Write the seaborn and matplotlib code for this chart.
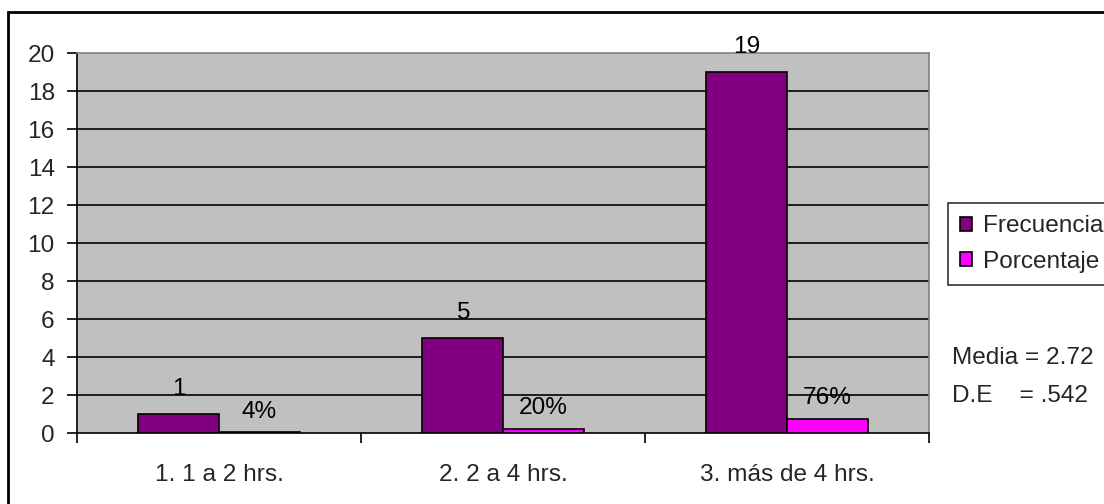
import numpy as np
import pandas as pd
import matplotlib
matplotlib.use("Agg")
import matplotlib.pyplot as plt
from matplotlib.patches import Rectangle
import seaborn as sns

# Data
categories = ['1. 1 a 2 hrs.', '2. 2 a 4 hrs.', '3. más de 4 hrs.']
frecuencia = [1, 5, 19]
porcentaje = [0.04, 0.20, 0.76]
frec_labels = ['1', '5', '19']
porc_labels = ['4%', '20%', '76%']
y_ticks = [0, 2, 4, 6, 8, 10, 12, 14, 16, 18, 20]
stats_lines = ['Media = 2.72', 'D.E    = .542']

sns.set_theme(style="white")
plt.rcParams['font.family'] = ['Liberation Sans', 'DejaVu Sans']

df = pd.DataFrame({
    'Categoria': categories * 2,
    'Valor': frecuencia + porcentaje,
    'Serie': ['Frecuencia'] * 3 + ['Porcentaje'] * 3,
})

FS = 17.6

fig = plt.figure(figsize=(11.04, 5.04), dpi=100)
ax = fig.add_axes([77 / 1104, 1 - 433 / 504, (929 - 77) / 1104, (433 - 53) / 504])

sns.barplot(data=df, x='Categoria', y='Valor', hue='Serie', order=categories,
            hue_order=['Frecuencia', 'Porcentaje'],
            palette={'Frecuencia': '#800080', 'Porcentaje': '#FF00FF'},
            width=0.57, edgecolor='black', linewidth=1.2, saturation=1,
            ax=ax, zorder=3)

ax.set_facecolor('#C0C0C0')
ax.set_xlim(-0.5, 2.5)
ax.set_ylim(0, 20)
ax.set_yticks(y_ticks)
ax.set_yticklabels([str(t) for t in y_ticks], fontsize=FS)
ax.tick_params(axis='y', direction='out', length=7, width=1.2, color='black', pad=9, left=True)
ax.set_xticks(range(len(categories)))
ax.set_xticklabels(categories, fontsize=FS)
ax.tick_params(axis='x', which='major', length=0, pad=22)
ax.set_xticks([-0.5, 0.5, 1.5, 2.5], minor=True)
ax.tick_params(axis='x', which='minor', direction='out', length=7, width=1.2, color='black', bottom=True)
ax.set_xlabel('')
ax.set_ylabel('')

for t in y_ticks[1:-1]:
    ax.axhline(t, color='black', lw=1.2, zorder=1)

for side in ['left', 'bottom']:
    ax.spines[side].set_color('black')
    ax.spines[side].set_linewidth(1.2)
for side in ['top', 'right']:
    ax.spines[side].set_color('#808080')
    ax.spines[side].set_linewidth(1.2)

# value labels
ax.bar_label(ax.containers[0], labels=frec_labels, padding=10, fontsize=FS, color='black', zorder=4)
ax.bar_label(ax.containers[1], labels=porc_labels, padding=7, fontsize=FS, color='black', zorder=4)

# legend
leg = ax.legend(loc='upper left', bbox_to_anchor=(948 / 1104, 1 - 203 / 504),
                bbox_transform=fig.transFigure, fontsize=FS, frameon=True,
                fancybox=False, edgecolor='black', handlelength=0.5, handleheight=0.5,
                handletextpad=0.45, borderpad=0.5, labelspacing=0.55, borderaxespad=0)
leg.get_frame().set_linewidth(1.2)

# stats text
fig.text(952 / 1104, 1 - 358 / 504, stats_lines[0], fontsize=FS, va='center', ha='left')
fig.text(952 / 1104, 1 - 396 / 504, stats_lines[1], fontsize=FS, va='center', ha='left')

# outer chart border (clipped at right and bottom)
fig.add_artist(Rectangle((8 / 1104, -0.2), 1.2, 1.2 - 12 / 504,
                         transform=fig.transFigure, fill=False,
                         edgecolor='black', linewidth=2))

fig.savefig('out.png', dpi=100)
